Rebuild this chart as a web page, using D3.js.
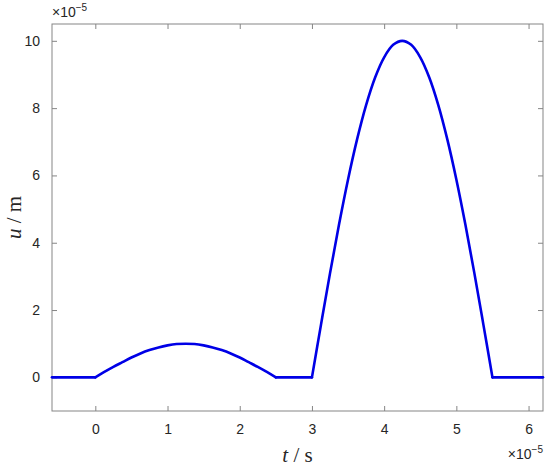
<!DOCTYPE html>
<html>
<head>
<meta charset="utf-8">
<script src="https://cdn.jsdelivr.net/npm/d3@7"></script>
<style>
  body { margin: 0; background: #fff; }
  svg { display: block; }
</style>
</head>
<body>
<div id="chart"></div>
<script>
// values in units of 1e-5 (time) and 1e-5 (displacement)
const flatBefore = [[-0.6, 0], [0, 0]];
const pulse1T = [0, 0.125, 0.25, 0.375, 0.5, 0.625, 0.75, 0.875, 1, 1.125, 1.25,
  1.375, 1.5, 1.625, 1.75, 1.875, 2, 2.125, 2.25, 2.375, 2.5];
const pulse1U = [0, 0.16, 0.31, 0.45, 0.59, 0.71, 0.81, 0.89, 0.95, 0.99, 1,
  0.99, 0.95, 0.89, 0.81, 0.71, 0.59, 0.45, 0.31, 0.16, 0];
const flatMiddle = [[2.5, 0], [3, 0]];
const pulse2T = [3, 3.125, 3.25, 3.375, 3.5, 3.625, 3.75, 3.875, 4, 4.125, 4.25,
  4.375, 4.5, 4.625, 4.75, 4.875, 5, 5.125, 5.25, 5.375, 5.5];
const pulse2U = [0, 1.56, 3.09, 4.54, 5.88, 7.07, 8.09, 8.91, 9.51, 9.88, 10,
  9.88, 9.51, 8.91, 8.09, 7.07, 5.88, 4.54, 3.09, 1.56, 0];
const flatAfter = [[5.5, 0], [6.2, 0]];
const xTicks = [0, 1, 2, 3, 4, 5, 6];
const yTicks = [0, 2, 4, 6, 8, 10];

const width = 550;
const height = 467;
const margin = { top: 24, right: 7, bottom: 56, left: 52 };
const innerW = width - margin.left - margin.right;
const innerH = height - margin.top - margin.bottom;
const axisColor = '#858585';
const textColor = '#262626';
const lineColor = '#0000e6';
const tickLen = 5;
const sansFont = 'Arial, "Liberation Sans", sans-serif';
const serifFont = '"Times New Roman", "Liberation Serif", serif';

const svg = d3.select('#chart')
  .append('svg')
  .attr('width', width)
  .attr('height', height);

const g = svg.append('g')
  .attr('transform', `translate(${margin.left},${margin.top})`);

const x = d3.scaleLinear().domain([-0.6, 6.2]).range([0, innerW]);
const y = d3.scaleLinear().domain([-1, 10.5]).range([innerH, 0]);

const styleAxis = sel => {
  sel.select('.domain').remove();
  sel.selectAll('.tick line').attr('stroke', axisColor);
  sel.selectAll('.tick text')
    .attr('fill', textColor)
    .style('font-family', sansFont)
    .style('font-size', '14px');
};

// bottom + top
g.append('g')
  .attr('transform', `translate(0,${innerH})`)
  .call(d3.axisBottom(x).tickValues(xTicks).tickFormat(d3.format('d'))
    .tickSizeInner(-tickLen).tickSizeOuter(0).tickPadding(13))
  .call(styleAxis);
g.append('g')
  .call(d3.axisTop(x).tickValues(xTicks).tickFormat('')
    .tickSizeInner(-tickLen).tickSizeOuter(0))
  .call(styleAxis);

// left + right
g.append('g')
  .call(d3.axisLeft(y).tickValues(yTicks).tickFormat(d3.format('d'))
    .tickSizeInner(-tickLen).tickSizeOuter(0).tickPadding(12))
  .call(styleAxis);
g.append('g')
  .attr('transform', `translate(${innerW},0)`)
  .call(d3.axisRight(y).tickValues(yTicks).tickFormat('')
    .tickSizeInner(-tickLen).tickSizeOuter(0))
  .call(styleAxis);

// box
g.append('rect')
  .attr('width', innerW)
  .attr('height', innerH)
  .attr('fill', 'none')
  .attr('stroke', axisColor)
  .attr('stroke-width', 1);

const flatLine = d3.line()
  .x(d => x(d[0]))
  .y(d => y(d[1]));
const pulseLine = d3.line()
  .x(d => x(d[0]))
  .y(d => y(d[1]))
  .curve(d3.curveCatmullRom);

const segments = [
  { pts: flatBefore, gen: flatLine },
  { pts: pulse1T.map((t, i) => [t, pulse1U[i]]), gen: pulseLine },
  { pts: flatMiddle, gen: flatLine },
  { pts: pulse2T.map((t, i) => [t, pulse2U[i]]), gen: pulseLine },
  { pts: flatAfter, gen: flatLine },
];

g.selectAll('path.curve')
  .data(segments)
  .enter()
  .append('path')
  .attr('class', 'curve')
  .attr('fill', 'none')
  .attr('stroke', lineColor)
  .attr('stroke-width', 2.6)
  .attr('stroke-linejoin', 'round')
  .attr('stroke-linecap', 'round')
  .attr('d', d => d.gen(d.pts));

// exponent labels
const expLabel = (xPos, yPos, anchor) => {
  const t = svg.append('text')
    .attr('x', xPos)
    .attr('y', yPos)
    .attr('text-anchor', anchor)
    .attr('fill', textColor)
    .style('font-family', sansFont)
    .style('font-size', '14px');
  t.append('tspan').text('\u00d710');
  t.append('tspan').attr('dy', -6).style('font-size', '10px').text('\u22125');
};
expLabel(margin.left, 17, 'start');
expLabel(width - margin.right, 459, 'end');

// axis titles
const title = svg.append('text')
  .attr('x', margin.left + innerW / 2)
  .attr('y', 462)
  .attr('text-anchor', 'middle')
  .attr('fill', textColor)
  .style('font-family', serifFont)
  .style('font-size', '21px');
title.append('tspan').style('font-style', 'italic').text('t');
title.append('tspan').text(' / s');

const ytitle = svg.append('text')
  .attr('transform', `translate(21,${margin.top + innerH / 2}) rotate(-90)`)
  .attr('text-anchor', 'middle')
  .attr('fill', textColor)
  .style('font-family', serifFont)
  .style('font-size', '21px');
ytitle.append('tspan').style('font-style', 'italic').text('u');
ytitle.append('tspan').text(' / m');
</script>
</body>
</html>
